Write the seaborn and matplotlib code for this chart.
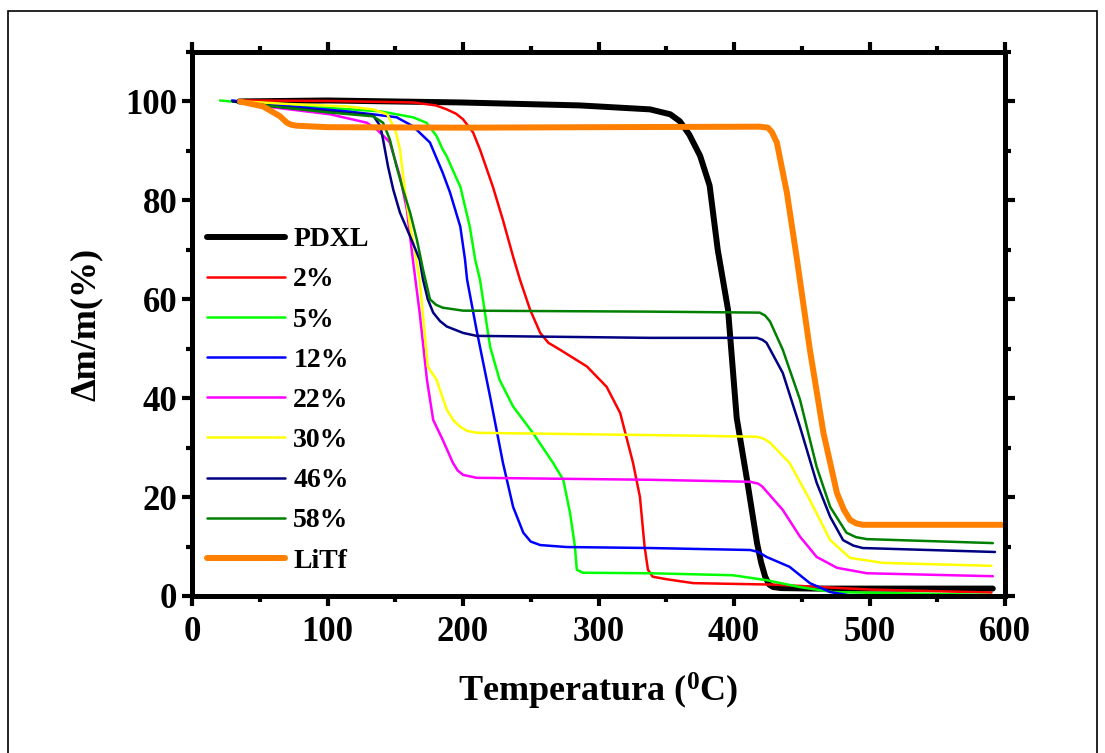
import numpy as np
import pandas as pd
import matplotlib
matplotlib.use("Agg")
import matplotlib.pyplot as plt
from matplotlib.patches import Rectangle
from matplotlib.ticker import MultipleLocator
import seaborn as sns

# ---- data ----
labels = ["PDXL", "2%", "5%", "12%", "22%", "30%", "46%", "58%", "LiTf"]
colors = ["#000000", "#FF0000", "#00FF00", "#0000FF", "#FF00FF",
          "#FFFF00", "#000080", "#008000", "#FF8000"]
widths = [4.3, 1.8, 1.8, 1.8, 1.8, 1.8, 1.8, 1.8, 4.3]

T_pdxl = [35, 100, 198, 286, 338, 353, 360, 367, 375, 382, 388, 395.6, 402, 409.6, 417, 420, 423, 426, 429, 435, 460, 591]
m_pdxl = [100, 100.2, 99.8, 99.2, 98.4, 97.4, 96, 93.3, 89, 83, 70, 57.9, 36, 23.5, 10.7, 6.8, 3.9, 2.3, 1.8, 1.6, 1.5, 1.5]

T_2 = [40, 100, 163, 180, 188, 195, 200, 207.5, 212.5, 222, 229.5, 237, 242, 249.5, 257, 263, 271.6, 291.5, 306, 316, 325.5, 330.6, 334, 336.5, 340, 350, 370, 430, 500, 590]
m_2 = [100.2, 100.1, 99.8, 99.2, 98.4, 97.5, 96.4, 93.7, 90.3, 82.8, 76, 68.6, 64, 57.9, 53.2, 51.2, 49.8, 46.4, 42.3, 37, 26.9, 20, 10, 5.3, 3.9, 3.4, 2.6, 2.3, 1.3, 0.7]

T_5 = [20.7, 60, 100, 139, 163, 173, 180.5, 185, 188, 195.6, 198, 205, 209, 212.5, 220, 227, 237, 251.8, 266.5, 274, 279, 282.6, 284, 288.6, 338, 399, 424, 448.7, 473, 589]
m_5 = [100.2, 99.2, 98.7, 98, 96.8, 95.7, 93, 90.3, 88.9, 84.2, 82.8, 74.7, 68, 64, 50.4, 43.7, 38.3, 32.9, 26.9, 23.5, 16.8, 10, 5.3, 4.7, 4.6, 4.2, 3.2, 1.8, 0.8, 0.2]

T_12 = [29.5, 60, 114, 133.6, 151, 163, 175.6, 185, 190.4, 198, 201.5, 203, 210, 220, 229.5, 237, 244.5, 250, 257, 276.5, 338, 412, 418, 424, 441, 456, 471, 488]
m_12 = [100.2, 99.3, 98, 97.4, 96.8, 95, 91.7, 85.6, 81.6, 74.7, 68, 64, 53.8, 40.3, 26.9, 18, 12.8, 11, 10.3, 9.9, 9.7, 9.3, 8.9, 7.9, 5.9, 2.6, 0.8, 0]

T_22 = [35, 60, 102, 129, 136.5, 144, 146, 153.5, 158.6, 163, 168, 173.4, 178, 185, 192.6, 196, 200, 210, 338, 412, 418, 421, 436, 448.7, 461, 476, 498, 591]
m_22 = [100, 98.8, 97.4, 95.7, 94.3, 92.3, 91.7, 84.8, 78.1, 68, 57.3, 43.7, 35.6, 31.6, 26.9, 25.4, 24.5, 23.9, 23.5, 23.1, 22.7, 22.1, 17.4, 12, 7.9, 5.7, 4.6, 4.0]

T_30 = [38, 70, 114, 133.6, 144, 150, 153.5, 157, 161, 163, 168, 174, 180.5, 188, 193, 198, 203, 210, 375, 417, 422, 426.6, 441, 456, 471, 485.6, 510, 590]
m_30 = [100, 99.5, 99, 98.4, 97.4, 94.3, 90.3, 82.2, 74.7, 72, 64, 46.4, 43.7, 37.7, 35.5, 34.2, 33.4, 33, 32.4, 32.2, 31.8, 31, 26.9, 19.4, 11.3, 7.7, 6.7, 6.1]

T_46 = [30, 60, 100, 133.6, 139, 141, 144.7, 148.5, 153.5, 161, 168, 170.5, 174, 178, 183, 188, 200, 210, 338, 417, 421, 424, 436, 448.7, 461, 471, 480.5, 488, 495, 592.6]
m_46 = [100, 99, 98, 97.2, 95, 92.3, 86.8, 82.2, 77.5, 72.7, 68, 64, 60, 57.3, 55.6, 54.5, 53.2, 52.6, 52.2, 52.2, 51.8, 51.2, 45.1, 34.2, 22.9, 16, 11.3, 10.2, 9.7, 8.9]

T_58 = [35, 60, 100, 133.6, 141, 146, 151, 155.7, 161, 166, 170.5, 175.6, 180, 185, 200, 338, 419, 423, 426.6, 436, 448.7, 461, 471, 483, 490, 498, 591]
m_58 = [100, 99, 97.8, 97, 95.7, 92.3, 86.8, 82.2, 77.5, 72, 66, 60, 58.9, 58.3, 57.7, 57.5, 57.3, 56.7, 55.5, 49.8, 39.7, 26.1, 18, 12.8, 11.9, 11.5, 10.7]

T_litf = [35.4, 52.4, 65, 70, 73, 77, 100, 200, 300, 419, 425, 428, 431.6, 439, 446.5, 456, 466, 476, 481, 485.6, 490, 495, 550, 600]
m_litf = [100, 99, 97, 95.7, 95.3, 95.1, 94.8, 94.7, 94.8, 94.9, 94.7, 93.8, 91.7, 81.6, 68, 49.8, 33, 20.8, 17.5, 15.4, 14.7, 14.4, 14.4, 14.4]

series_T = [T_pdxl, T_2, T_5, T_12, T_22, T_30, T_46, T_58, T_litf]
series_m = [m_pdxl, m_2, m_5, m_12, m_22, m_30, m_46, m_58, m_litf]

xticks = [0, 100, 200, 300, 400, 500, 600]
yticks = [0, 20, 40, 60, 80, 100]

# ---- style ----
sns.set_theme(style="ticks")
plt.rcParams["font.family"] = ["Liberation Serif", "DejaVu Serif"]
plt.rcParams["font.weight"] = "bold"
plt.rcParams["text.color"] = "black"
plt.rcParams["axes.labelcolor"] = "black"
plt.rcParams["xtick.color"] = "black"
plt.rcParams["ytick.color"] = "black"
plt.rcParams["xtick.labelcolor"] = "black"
plt.rcParams["ytick.labelcolor"] = "black"
plt.rcParams["mathtext.fontset"] = "custom"
plt.rcParams["mathtext.rm"] = "Liberation Serif:bold"
plt.rcParams["mathtext.bf"] = "Liberation Serif:bold"
plt.rcParams["mathtext.it"] = "Liberation Serif:bold"

fig = plt.figure(figsize=(11.05, 7.53), dpi=100)
fig.patch.set_facecolor("white")
ax = fig.add_axes([192 / 1105, 1 - 596 / 753, 813 / 1105, 544 / 753])

for T, m, lab, c, w in zip(series_T, series_m, labels, colors, widths):
    df = pd.DataFrame({"T": T, "m": m})
    sns.lineplot(data=df, x="T", y="m", ax=ax, color=c, linewidth=w,
                 label=lab, sort=False, estimator=None)

ax.set_xlim(0, 600)
ax.set_ylim(0, 110)
ax.set_xticks(xticks)
ax.set_yticks(yticks)
ax.xaxis.set_minor_locator(MultipleLocator(50))
ax.yaxis.set_minor_locator(MultipleLocator(10))
for s in ax.spines.values():
    s.set_visible(True)
    s.set_linewidth(3.6)
    s.set_color("black")
ax.tick_params(axis="both", which="major", direction="out", length=7.5, width=3,
               labelsize=25, colors="black", labelcolor="black")
ax.tick_params(axis="x", which="major", pad=7)
ax.tick_params(axis="y", which="major", pad=3)
ax.tick_params(axis="both", which="minor", direction="out", length=4.5, width=3,
               colors="black")
ax.tick_params(top=True, right=True, which="both")
ax.tick_params(labeltop=False, labelright=False)
for t in ax.get_xticklabels() + ax.get_yticklabels():
    t.set_fontweight("bold")
    t.set_color("black")

ax.set_xlabel(r"Temperatura ($^{0}$C)", fontsize=26, fontweight="bold",
              labelpad=16, color="black")
ax.set_ylabel("Δm/m(%)", fontsize=26, fontweight="bold", labelpad=16,
              color="black")

leg = ax.legend(loc="upper left", bbox_to_anchor=(0.005, 0.699), frameon=False,
                prop={"family": "Liberation Serif", "weight": "bold", "size": 20},
                handlelength=2.8, handletextpad=0.3, labelspacing=0.53,
                borderaxespad=0)
for t in leg.get_texts():
    t.set_color("black")

fig.add_artist(Rectangle((8 / 1105, -0.01), 1089 / 1105, 1 - 11 / 753 + 0.01,
                         transform=fig.transFigure, fill=False,
                         edgecolor="black", linewidth=1.2))

fig.savefig("out.png", dpi=100)
